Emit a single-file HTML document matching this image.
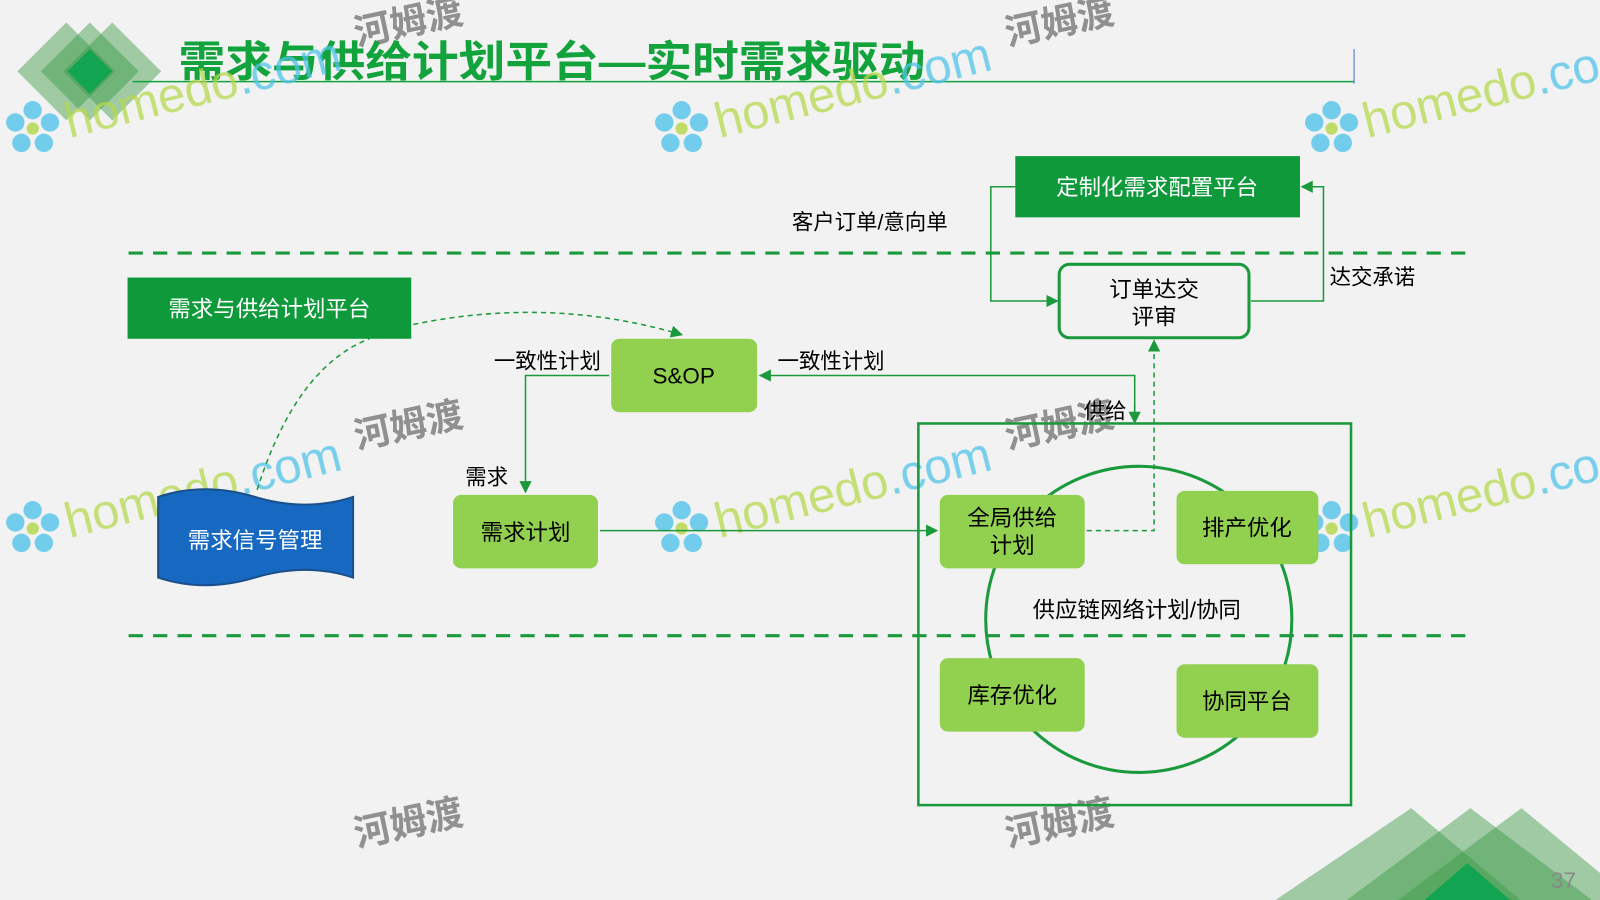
<!DOCTYPE html>
<html><head><meta charset="utf-8"><style>
html,body{margin:0;padding:0;background:#f2f2f2;}
svg{display:block;}
text{font-family:"Liberation Sans","Noto Sans CJK SC",sans-serif;}
</style></head><body>
<svg width="1600" height="900" viewBox="0 0 1568 882" preserveAspectRatio="none" xmlns="http://www.w3.org/2000/svg">
<defs>
<marker id="a" markerWidth="8" markerHeight="8" refX="7" refY="4" orient="auto"><path d="M0,0L8,4L0,8z" fill="#1a9a3c"/></marker>
<g id="fl">
<circle cx="0" cy="-18" r="9" fill="#5cc6ea"/><circle cx="17" cy="-6" r="9" fill="#5cc6ea"/><circle cx="11" cy="14" r="9" fill="#5cc6ea"/><circle cx="-11" cy="14" r="9" fill="#5cc6ea"/><circle cx="-17" cy="-6" r="9" fill="#5cc6ea"/><circle cx="0" cy="0" r="6" fill="#b6d84e"/>
</g>
</defs>
<rect width="1568" height="882" fill="#f2f2f2"/>
<polygon points="65,22 113,70 65,118 17,70" fill="#3a9a45" opacity="0.45"/>
<polygon points="88,22 136,70 88,118 40,70" fill="#3a9a45" opacity="0.45"/>
<polygon points="110,22 158,70 110,118 62,70" fill="#3a9a45" opacity="0.45"/>
<polygon points="88,48 110,70 88,92 66,70" fill="#12a450"/>
<polygon points="1383,792 1490,882 1250,882" fill="#3a9a45" opacity="0.45"/>
<polygon points="1441,792 1560,882 1320,882" fill="#3a9a45" opacity="0.45"/>
<polygon points="1491,792 1600,882 1370,882" fill="#3a9a45" opacity="0.45"/>
<polygon points="1438,846 1480,882 1396,882" fill="#12a450"/>
<text x="1520" y="870" font-size="22" fill="#888">37</text>
<text x="175" y="75" font-size="42" font-weight="bold" fill="#12a33c" textLength="732" lengthAdjust="spacingAndGlyphs">需求与供给计划平台—实时需求驱动</text>
<line x1="130" y1="80" x2="1327" y2="80" stroke="#12a33c" stroke-width="1.5"/>
<line x1="1327" y1="48" x2="1327" y2="82" stroke="#4472c4" stroke-width="1"/>
<g opacity="0.85">
<use href="#fl" x="32" y="126"/><use href="#fl" x="668" y="126"/><use href="#fl" x="1305" y="126"/>
<use href="#fl" x="32" y="518"/><use href="#fl" x="668" y="518"/><use href="#fl" x="1305" y="518"/>
</g>
<g font-size="48" fill="#b6d84e" opacity="0.75">
<text x="68" y="135" transform="rotate(-14 68 135)">homedo<tspan fill="#4fc3e8">.com</tspan></text>
<text x="705" y="135" transform="rotate(-14 705 135)">homedo<tspan fill="#4fc3e8">.com</tspan></text>
<text x="1340" y="135" transform="rotate(-14 1340 135)">homedo<tspan fill="#4fc3e8">.co</tspan></text>
<text x="68" y="527" transform="rotate(-14 68 527)">homedo<tspan fill="#4fc3e8">.com</tspan></text>
<text x="705" y="527" transform="rotate(-14 705 527)">homedo<tspan fill="#4fc3e8">.com</tspan></text>
<text x="1340" y="527" transform="rotate(-14 1340 527)">homedo<tspan fill="#4fc3e8">.co</tspan></text>
</g>
<g font-size="36" fill="#777" opacity="0.8" font-weight="bold">
<text x="350" y="45" transform="rotate(-12 350 45)">河姆渡</text>
<text x="988" y="45" transform="rotate(-12 988 45)">河姆渡</text>
<text x="350" y="440" transform="rotate(-12 350 440)">河姆渡</text>
<text x="988" y="440" transform="rotate(-12 988 440)">河姆渡</text>
<text x="350" y="830" transform="rotate(-12 350 830)">河姆渡</text>
<text x="988" y="830" transform="rotate(-12 988 830)">河姆渡</text>
</g>
<line x1="126" y1="248" x2="1442" y2="248" stroke="#1a9a3c" stroke-width="3" stroke-dasharray="14,10"/>
<line x1="126" y1="623" x2="1442" y2="623" stroke="#1a9a3c" stroke-width="3" stroke-dasharray="14,10"/>
<rect x="995" y="153" width="279" height="60" fill="#0e9a3a"/>
<text x="1134" y="191" font-size="22" fill="#fff" text-anchor="middle">定制化需求配置平台</text>
<rect x="1038" y="259" width="186" height="72" rx="10" fill="#f2f2f2" stroke="#1a9a3c" stroke-width="3"/>
<text x="1131" y="291" font-size="22" text-anchor="middle">订单达交</text>
<text x="1131" y="318" font-size="22" text-anchor="middle">评审</text>
<text x="776" y="225" font-size="21">客户订单/意向单</text>
<text x="1303" y="279" font-size="21">达交承诺</text>
<polyline points="995,183 971,183 971,295 1036,295" fill="none" stroke="#1a9a3c" stroke-width="1.5" marker-end="url(#a)"/>
<polyline points="1226,295 1297,295 1297,183 1276,183" fill="none" stroke="#1a9a3c" stroke-width="1.5" marker-end="url(#a)"/>
<rect x="125" y="272" width="278" height="60" fill="#0e9a3a"/>
<text x="264" y="310" font-size="22" fill="#fff" text-anchor="middle">需求与供给计划平台</text>
<path d="M155,487 Q200,472 250,487 Q300,502 346,487 L346,566 Q300,551 250,566 Q200,581 155,566 Z" fill="#1668c0" stroke="#1b4f8a" stroke-width="2"/>
<text x="250" y="537" font-size="22" fill="#fff" text-anchor="middle">需求信号管理</text>
<path d="M252,480 Q290,360 362,332" fill="none" stroke="#1a9a3c" stroke-width="1.5" stroke-dasharray="5,4"/>
<path d="M405,318 Q540,290 668,328" fill="none" stroke="#1a9a3c" stroke-width="1.5" stroke-dasharray="5,4" marker-end="url(#a)"/>
<rect x="599" y="332" width="143" height="72" rx="8" fill="#92d050"/>
<text x="670" y="376" font-size="22" text-anchor="middle">S&amp;OP</text>
<rect x="444" y="485" width="142" height="72" rx="8" fill="#92d050"/>
<text x="515" y="529" font-size="22" text-anchor="middle">需求计划</text>
<text x="484" y="361" font-size="21">一致性计划</text>
<text x="762" y="361" font-size="21">一致性计划</text>
<text x="456" y="475" font-size="21">需求</text>
<polyline points="597,368 515,368 515,482" fill="none" stroke="#1a9a3c" stroke-width="1.5" marker-end="url(#a)"/>
<polyline points="1112,412 1112,368 745,368" fill="none" stroke="#1a9a3c" stroke-width="1.5" marker-end="url(#a)"/>
<line x1="1112" y1="395" x2="1112" y2="414" stroke="#1a9a3c" stroke-width="1.5" marker-end="url(#a)"/>
<text x="1062" y="410" font-size="21">供给</text>
<line x1="588" y1="520" x2="918" y2="520" stroke="#1a9a3c" stroke-width="1.5" marker-end="url(#a)"/>
<rect x="900" y="415" width="424" height="374" fill="none" stroke="#1a9a3c" stroke-width="2.5"/>
<circle cx="1116" cy="607" r="150" fill="none" stroke="#1a9a3c" stroke-width="3"/>
<polyline points="1065,520 1131,520 1131,334" fill="none" stroke="#1a9a3c" stroke-width="1.5" stroke-dasharray="5,4" marker-end="url(#a)"/>
<rect x="921" y="485" width="142" height="72" rx="8" fill="#92d050"/>
<text x="992" y="515" font-size="22" text-anchor="middle">全局供给</text>
<text x="992" y="542" font-size="22" text-anchor="middle">计划</text>
<rect x="1153" y="481" width="139" height="72" rx="8" fill="#92d050"/>
<text x="1222" y="525" font-size="22" text-anchor="middle">排产优化</text>
<rect x="921" y="645" width="142" height="72" rx="8" fill="#92d050"/>
<text x="992" y="689" font-size="22" text-anchor="middle">库存优化</text>
<rect x="1153" y="651" width="139" height="72" rx="8" fill="#92d050"/>
<text x="1222" y="695" font-size="22" text-anchor="middle">协同平台</text>
<text x="1114" y="605" font-size="22" text-anchor="middle">供应链网络计划/协同</text>
</svg>
</body></html>
